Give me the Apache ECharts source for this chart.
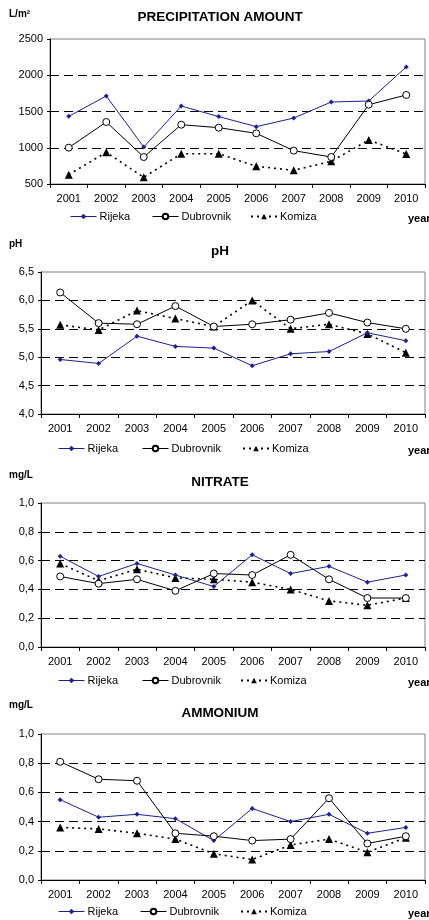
<!DOCTYPE html>
<html>
<head>
<meta charset="utf-8">
<script src="https://cdn.jsdelivr.net/npm/echarts@6/dist/echarts.min.js"></script>
<style>
html,body{margin:0;padding:0;background:#fff;}
#c{width:429px;height:920px;}
</style>
</head>
<body>
<div id="c"></div>
<script>
var years = ['2001','2002','2003','2004','2005','2006','2007','2008','2009','2010'];
var seriesNames = ['Rijeka','Dubrovnik','Komiza'];

var precipRijeka    = [1433, 1714, 1010, 1575, 1430, 1291, 1410, 1631, 1645, 2115];
var precipDubrovnik = [1001, 1355, 872, 1318, 1277, 1199, 960, 872, 1594, 1728];
var precipKomiza    = [629, 937, 592, 918, 918, 744, 689, 813, 1107, 914];

var phRijeka    = [4.96, 4.89, 5.37, 5.19, 5.16, 4.85, 5.06, 5.10, 5.43, 5.29];
var phDubrovnik = [6.14, 5.60, 5.58, 5.90, 5.54, 5.58, 5.66, 5.78, 5.61, 5.50];
var phKomiza    = [5.57, 5.48, 5.82, 5.68, 5.54, 6.00, 5.50, 5.58, 5.41, 5.08];

var nitRijeka    = [0.63, 0.49, 0.58, 0.50, 0.42, 0.64, 0.51, 0.56, 0.45, 0.50];
var nitDubrovnik = [0.49, 0.44, 0.47, 0.39, 0.51, 0.50, 0.64, 0.47, 0.34, 0.34];
var nitKomiza    = [0.58, 0.46, 0.54, 0.48, 0.47, 0.45, 0.40, 0.32, 0.29, 0.34];

var ammRijeka    = [0.55, 0.43, 0.45, 0.42, 0.27, 0.49, 0.40, 0.45, 0.32, 0.36];
var ammDubrovnik = [0.81, 0.69, 0.68, 0.32, 0.30, 0.27, 0.28, 0.56, 0.25, 0.30];
var ammKomiza    = [0.36, 0.35, 0.32, 0.28, 0.18, 0.14, 0.24, 0.28, 0.19, 0.29];

var panelTitles = ['PRECIPITATION AMOUNT', 'pH', 'NITRATE', 'AMMONIUM'];
var unitLabels = ['L/m\u00b2', 'pH', 'mg/L', 'mg/L'];
var axisMin = [500, 4, 0, 0];
var axisMax = [2500, 6.5, 1, 1];
var axisStep = [500, 0.5, 0.2, 0.2];
var panelData = [
  [precipRijeka, precipDubrovnik, precipKomiza],
  [phRijeka, phDubrovnik, phKomiza],
  [nitRijeka, nitDubrovnik, nitKomiza],
  [ammRijeka, ammDubrovnik, ammKomiza]
];

var gridBox = [
  {left: 50, top: 39, width: 375, height: 145},
  {left: 41, top: 272, width: 384, height: 142},
  {left: 41, top: 503, width: 384, height: 144},
  {left: 41, top: 734, width: 384, height: 146}
];
var titleY = [17, 251, 482, 713];
var unitY = [14, 244, 475, 705];
var legendY = [218, 450, 682, 913];
var legendX = [[70, 152, 250], [58, 142, 242], [58, 142, 240], [58, 140, 240]];

var FONT = '"Liberation Sans", Arial, sans-serif';
var FONTFAM = 'Liberation Sans';

var grids = [], xAxes = [], yAxes = [], series = [], legends = [], graphics = [];

function styleFor(k) {
  if (k === 0) return {
    symbol: 'diamond', symbolSize: 5,
    itemStyle: {color: '#1f1f9a'},
    lineStyle: {color: '#1f1f9a', width: 1}
  };
  if (k === 1) return {
    symbol: 'circle', symbolSize: 7,
    itemStyle: {color: '#fff', borderColor: '#000', borderWidth: 1},
    lineStyle: {color: '#000', width: 1}
  };
  return {
    symbol: 'triangle', symbolSize: 8,
    itemStyle: {color: '#000'},
    lineStyle: {color: '#000', width: 1.6, type: [2, 4]}
  };
}

for (var i = 0; i < 4; i++) {
  var g = gridBox[i];
  grids.push({left: g.left, top: g.top, width: g.width, height: g.height,
    show: true, borderColor: '#808080', borderWidth: 1, backgroundColor: '#fff'});
  xAxes.push({
    gridIndex: i, type: 'category', data: years, boundaryGap: true,
    axisLine: {show: true, lineStyle: {color: '#000', width: 1}},
    axisTick: {show: true, length: 4, alignWithLabel: false, lineStyle: {color: '#000'}},
    axisLabel: {color: '#000', fontFamily: FONTFAM, fontSize: 11, margin: 9, interval: 0},
    splitLine: {show: false}
  });
  var nTicks = Math.round((axisMax[i] - axisMin[i]) / axisStep[i]) + 1;
  var cols = [];
  for (var t = 0; t < nTicks; t++) cols.push(t === nTicks - 1 ? 'rgba(0,0,0,0)' : '#000');
  yAxes.push({
    gridIndex: i, type: 'value', min: axisMin[i], max: axisMax[i], interval: axisStep[i],
    axisLine: {show: true, lineStyle: {color: '#000', width: 1}},
    axisTick: {show: true, length: 3, inside: false, lineStyle: {color: '#000'}},
    axisLabel: {color: '#000', fontFamily: FONTFAM, fontSize: 11, margin: 7,
      formatter: (i === 0) ? function (v) { return String(v); }
                           : function (v) { return v.toFixed(1).replace('.', ','); }},
    splitLine: {show: true, lineStyle: {color: cols, width: 1, type: [9, 5]}}
  });
  for (var k = 0; k < 3; k++) {
    var s = styleFor(k);
    series.push({
      name: seriesNames[k], type: 'line', xAxisIndex: i, yAxisIndex: i,
      data: panelData[i][k], symbol: s.symbol, symbolSize: s.symbolSize,
      showAllSymbol: true, itemStyle: s.itemStyle, lineStyle: s.lineStyle,
      z: 3 + (k === 0 ? 1 : (k === 1 ? 2 : 0)), animation: false
    });
    legends.push({
      data: [seriesNames[k]], left: legendX[i][k], top: legendY[i] - 7,
      itemWidth: 26, itemHeight: 7, itemGap: 0, selectedMode: false,
      lineStyle: {width: k === 2 ? 2 : 1},
      textStyle: {color: '#000', fontFamily: FONTFAM, fontSize: 11, padding: [0, 0, 0, -2]},
      padding: 0
    });
  }
  graphics.push({type: 'text', x: 220, y: titleY[i],
    style: {text: panelTitles[i], fill: '#000', font: 'bold 13.5px ' + FONT,
      align: 'center', verticalAlign: 'middle'}});
  graphics.push({type: 'text', x: 9, y: unitY[i],
    style: {text: unitLabels[i], fill: '#000', font: 'bold 10px ' + FONT,
      verticalAlign: 'middle'}});
  graphics.push({type: 'text', x: 408, y: legendY[i] + 1,
    style: {text: 'year', fill: '#000', font: 'bold 11px ' + FONT,
      verticalAlign: 'middle'}});
}

var chart = echarts.init(document.getElementById('c'), null, {renderer: 'canvas'});
chart.setOption({
  backgroundColor: '#fff',
  animation: false,
  grid: grids, xAxis: xAxes, yAxis: yAxes, series: series, legend: legends,
  graphic: graphics
});
</script>
</body>
</html>
